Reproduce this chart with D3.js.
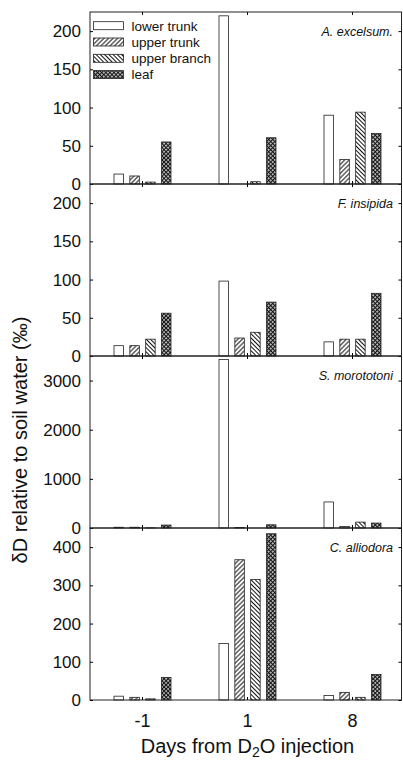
<!DOCTYPE html>
<html>
<head>
<meta charset="utf-8">
<script src="https://cdn.jsdelivr.net/npm/d3@7"></script>
<style>
  body { margin: 0; background: #fff; }
  text { font-family: "Liberation Sans", Arial, sans-serif; fill: #111; }
</style>
</head>
<body>
<div id="chart"></div>
<script>
// categories
var days = ["-1", "1", "8"];
var tissues = ["lower trunk", "upper trunk", "upper branch", "leaf"];
var species = ["A. excelsum.", "F. insipida", "S. morototoni", "C. alliodora"];

// y axis per panel
var yMax = [225, 225, 3500, 450];
var yTicks = [[0, 50, 100, 150, 200], [0, 50, 100, 150, 200], [0, 1000, 2000, 3000], [0, 100, 200, 300, 400]];

// dD values, one row per day (-1, 1, 8), columns follow tissues
var excelsum   = [[13, 10.5, 2.5, 55], [220, 0, 3, 60.5], [90, 32, 94, 66]];
var insipida   = [[13.5, 13.5, 22, 56], [98, 23.5, 31, 70.5], [18.5, 22, 22, 82]];
var morototoni = [[15, 15, 3, 60], [3430, 10, 0, 65], [530, 30, 120, 100]];
var alliodora  = [[10, 7, 3, 59], [148, 367, 315, 435], [12, 20, 7, 67]];
var values = [excelsum, insipida, morototoni, alliodora];

var width = 403, height = 761;
var margin = {top: 12, left: 90, right: 1.5};
var panelH = 172;
var right = width - margin.right;

var svg = d3.select("#chart")
  .append("svg")
    .attr("width", width)
    .attr("height", height);

// fill patterns
var defs = svg.append("defs");
function hatch(id, angle, step, cross) {
  var p = defs.append("pattern")
    .attr("id", id)
    .attr("patternUnits", "userSpaceOnUse")
    .attr("width", step).attr("height", step)
    .attr("patternTransform", "rotate(" + angle + ")");
  p.append("rect").attr("width", step).attr("height", step).attr("fill", "#fff");
  p.append("line").attr("x1", step / 2).attr("x2", step / 2).attr("y1", 0).attr("y2", step)
    .attr("stroke", "#111").attr("stroke-width", cross ? 1.3 : 1);
  if (cross) {
    p.append("line").attr("y1", step / 2).attr("y2", step / 2).attr("x1", 0).attr("x2", step)
      .attr("stroke", "#111").attr("stroke-width", 1.3);
  }
}
hatch("upTrunk", 45, 3.2, false);
hatch("upBranch", -45, 3, false);
hatch("leaf", 45, 2.9, true);
var fills = ["#fff", "url(#upTrunk)", "url(#upBranch)", "url(#leaf)"];

// x scales
var x0 = d3.scaleBand()
  .domain(days)
  .range([margin.left, 405]);
var x1 = d3.scaleBand()
  .domain(tissues)
  .range([-28.5, 28.5])
  .paddingInner(0.4);

species.forEach(function(name, i) {
  var top = margin.top + i * panelH;
  var bottom = top + panelH;

  var y = d3.scaleLinear()
    .domain([0, yMax[i]])
    .range([bottom, top]);

  var g = svg.append("g");

  // bars
  values[i].forEach(function(row, j) {
    g.append("g")
      .selectAll("rect")
      .data(row)
      .enter()
      .append("rect")
        .attr("x", function(d, k) { return x0(days[j]) + x0.bandwidth() / 2 + x1(tissues[k]); })
        .attr("y", function(d) { return y(d); })
        .attr("width", x1.bandwidth())
        .attr("height", function(d) { return bottom - y(d); })
        .attr("fill", function(d, k) { return fills[k]; })
        .attr("stroke", "#222")
        .attr("stroke-width", 0.8);
  });

  // frame
  g.append("rect")
    .attr("x", margin.left).attr("y", top)
    .attr("width", right - margin.left).attr("height", panelH)
    .attr("fill", "none").attr("stroke", "#222").attr("stroke-width", 1);

  // left axis
  g.append("g")
    .attr("transform", "translate(" + margin.left + ",0)")
    .call(d3.axisLeft(y).tickValues(yTicks[i]).tickFormat(d3.format("d"))
      .tickSizeInner(-3).tickSizeOuter(0).tickPadding(9))
    .call(function(a) { a.select(".domain").remove(); })
    .selectAll("text")
      .attr("font-size", "17px")
      .attr("font-family", "Liberation Sans, Arial, sans-serif");

  // right ticks
  g.append("g")
    .attr("transform", "translate(" + right + ",0)")
    .call(d3.axisRight(y).tickValues(yTicks[i]).tickSizeInner(-3).tickSizeOuter(0).tickFormat(""))
    .call(function(a) { a.select(".domain").remove(); });

  // top ticks
  g.append("g")
    .attr("transform", "translate(0," + top + ")")
    .call(d3.axisTop(x0).tickSizeInner(-3).tickSizeOuter(0).tickFormat(""))
    .call(function(a) { a.select(".domain").remove(); });

  // bottom ticks, labels on last panel only
  var xAxis = d3.axisBottom(x0).tickSizeInner(-3).tickSizeOuter(0).tickPadding(14);
  if (i < species.length - 1) xAxis.tickFormat("");
  g.append("g")
    .attr("transform", "translate(0," + bottom + ")")
    .call(xAxis)
    .call(function(a) { a.select(".domain").remove(); })
    .selectAll("text")
      .attr("font-size", "18px")
      .attr("font-family", "Liberation Sans, Arial, sans-serif");

  // species name
  g.append("text")
    .attr("x", 393)
    .attr("y", top + 24)
    .attr("text-anchor", "end")
    .attr("font-size", "12.5px")
    .attr("font-style", "italic")
    .text(name);
});

// legend
var legend = svg.append("g")
  .selectAll("g")
  .data(tissues)
  .enter()
  .append("g")
    .attr("transform", function(d, k) { return "translate(93.5," + (25.7 + k * 16.3) + ")"; });
legend.append("rect")
  .attr("x", 0).attr("y", -4)
  .attr("width", 30).attr("height", 8)
  .attr("fill", function(d, k) { return fills[k]; })
  .attr("stroke", "#222").attr("stroke-width", 0.8);
legend.append("text")
  .attr("x", 38)
  .attr("dy", "0.36em")
  .attr("font-size", "13.5px")
  .text(function(d) { return d; });

// axis titles
svg.append("text")
  .attr("transform", "translate(27,440) rotate(-90)")
  .attr("text-anchor", "middle")
  .attr("font-size", "20px")
  .text("\u03B4D relative to soil water (\u2030)");

var xt = svg.append("text")
  .attr("x", (margin.left + 405) / 2)
  .attr("y", 753)
  .attr("text-anchor", "middle")
  .attr("font-size", "20px");
xt.append("tspan").text("Days from D");
xt.append("tspan").attr("font-size", "14px").attr("dy", 4).text("2");
xt.append("tspan").attr("dy", -4).text("O injection");
</script>
</body>
</html>
